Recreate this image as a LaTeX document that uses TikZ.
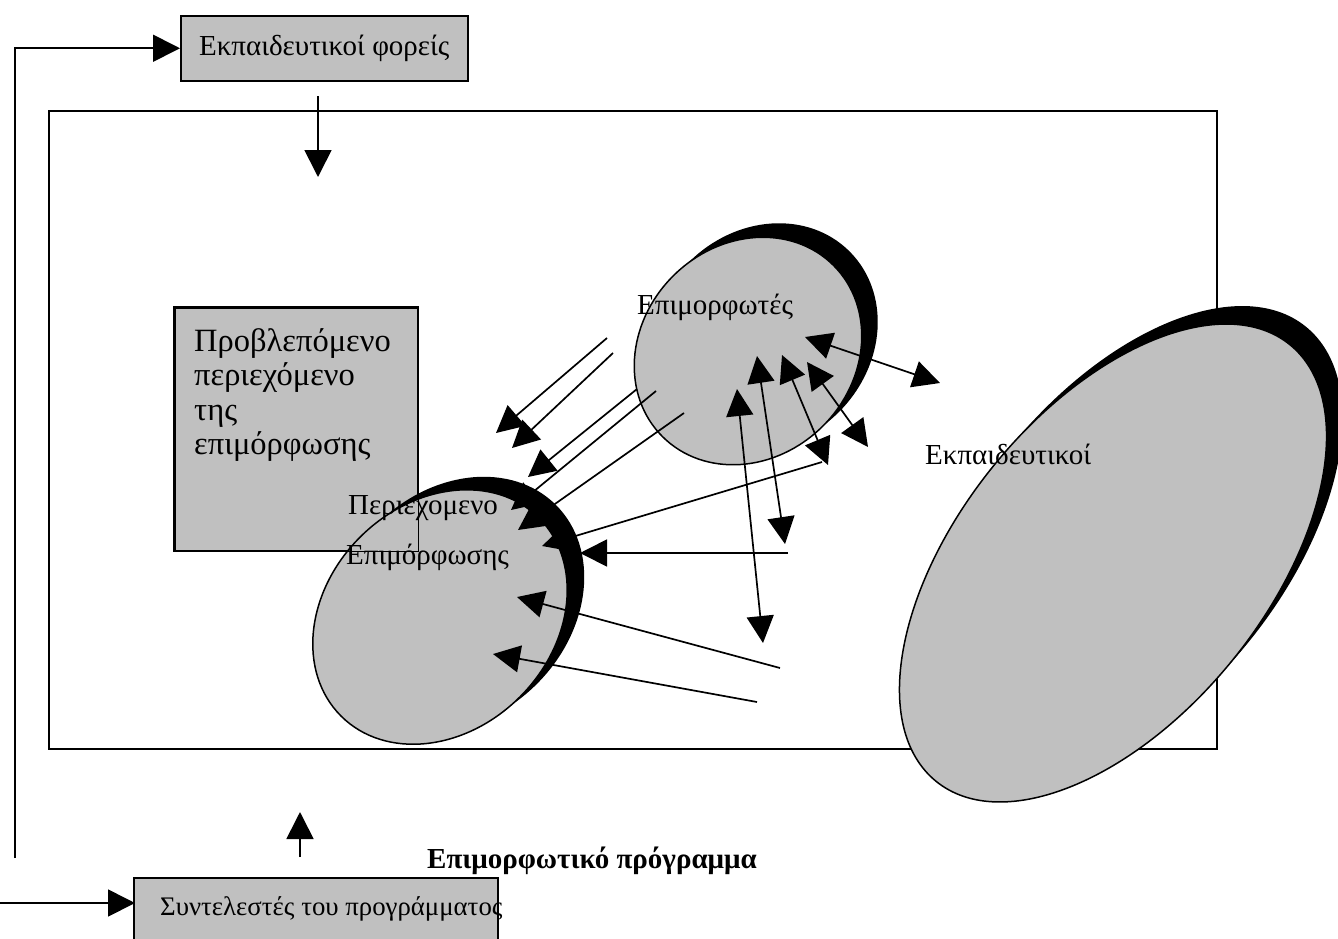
\documentclass[tikz,border=0pt]{standalone}
\usepackage{fontspec}
\setmainfont{Liberation Serif}
\usetikzlibrary{arrows.meta,shapes.geometric}
\definecolor{boxgray}{RGB}{192,192,192}
\begin{document}
\begin{tikzpicture}[x=1pt,y=-1pt,
  arr/.style={line width=1.7pt, -{Triangle[length=27pt,width=27pt]}},
  darr/.style={line width=1.7pt, {Triangle[length=27pt,width=27pt]}-{Triangle[length=27pt,width=27pt]}},
  graybox/.style={draw=black, line width=1.5pt, fill=boxgray, inner sep=0pt, anchor=north west},
  shadowell/.style={ellipse, fill=black, inner sep=0pt},
  grayell/.style={ellipse, draw=black, line width=1.5pt, fill=boxgray, inner sep=0pt},
  lbl/.style={inner sep=0pt, anchor=base west, font=\fontsize{29}{34}\selectfont},
  biglbl/.style={inner sep=0pt, anchor=north west, align=left, font=\fontsize{32.5}{34.5}\selectfont}
]
\useasboundingbox (0,0) rectangle (1338,938);
\clip (0,0) rectangle (1338,938);

% main frame
\node[draw=black, line width=1.5pt, minimum width=1168pt, minimum height=638pt, inner sep=0pt, anchor=north west] (frame) at (48,110) {};

% top box
\node[graybox, minimum width=287pt, minimum height=65pt, font=\fontsize{29}{34}\selectfont] (foreis) at (180,15) {Εκπαιδευτικοί φορείς};

% bottom box
\node[graybox, minimum width=364pt, minimum height=80pt] (synt) at (133,877) {};
\node[lbl, font=\fontsize{26.8}{32}\selectfont] (syntT) at (160,915) {Συντελεστές του προγράμματος};

% content box
\node[graybox, minimum width=243pt, minimum height=243pt] (prov) at (174,307) {};

% ellipses with shadows
\node[shadowell, minimum width=280pt, minimum height=226pt, rotate=45] (lowS) at (457,604) {};
\node[grayell, minimum width=280pt, minimum height=226pt, rotate=45] (low) at (440,617) {};
\node[shadowell, minimum width=242pt, minimum height=212pt, rotate=45] (epimS) at (764,337) {};
\node[grayell, minimum width=242pt, minimum height=212pt, rotate=45] (epim) at (748,351) {};
\node[shadowell, minimum width=562pt, minimum height=308pt, rotate=51] (ekpS) at (1129,545) {};
\node[grayell, minimum width=562pt, minimum height=308pt, rotate=51] (ekp) at (1113,563) {};

% content box outline stays visible over the ellipse
\draw[line width=1.5pt] (prov.north west) rectangle (prov.south east);
\node[biglbl] (provT) at (194,328) {Προβλεπόμενο\\περιεχόμενο\\της\\επιμόρφωσης};

% endpoints
\coordinate (a1s) at (607,338); \coordinate (a1e) at (496,433);
\coordinate (a2s) at (613,353); \coordinate (a2e) at (512,448);
\coordinate (a3s) at (637,389); \coordinate (a3e) at (528,477);
\coordinate (a4s) at (656,391); \coordinate (a4e) at (511,510);
\coordinate (a5s) at (684,413); \coordinate (a5e) at (518,530);
\coordinate (a6s) at (822,462); \coordinate (a6e) at (542,546);
\coordinate (c1s) at (788,553); \coordinate (c1e) at (580,553);
\coordinate (c2s) at (780,668); \coordinate (c2e) at (517,597);
\coordinate (c3s) at (757,702); \coordinate (c3e) at (493,654);
\coordinate (b1s) at (737,389); \coordinate (b1e) at (763,643);
\coordinate (b2s) at (757,356); \coordinate (b2e) at (785,544);
\coordinate (b3s) at (782,355); \coordinate (b3e) at (828,465);
\coordinate (b4s) at (807,362); \coordinate (b4e) at (868,447);
\coordinate (b5s) at (805,337); \coordinate (b5e) at (940,383);
\coordinate (dnS) at (318,96); \coordinate (dnE) at (318,177);
\coordinate (upS) at (300,857); \coordinate (upE) at (300,812);
\coordinate (fbS) at (15,858);
\coordinate (inS) at (0,903); \coordinate (inE) at (135,903);

\foreach \p in {a1,a2,a3,a4,a5,a6,c1,c2,c3} \draw[arr] (\p s) -- (\p e);
\foreach \p in {b1,b2,b3,b4,b5} \draw[darr] (\p s) -- (\p e);
\draw[arr] (dnS) -- (dnE);
\draw[arr] (upS) -- (upE);
\draw[arr] (fbS) |- (foreis.west);
\draw[arr] (inS) -- (inE);

% labels
\node[lbl] (epimT) at (637,314) {Επιμορφωτές};
\node[lbl] (ekpT) at (925,464) {Εκπαιδευτικοί};
\node[lbl] (perT) at (348,514) {Περιεχομενο};
\node[lbl] (epfT) at (346,564) {Επιμόρφωσης};
\node[lbl, font=\bfseries\fontsize{29}{34}\selectfont] (progT) at (427,868) {Επιμορφωτικό πρόγραμμα};
\end{tikzpicture}
\end{document}
